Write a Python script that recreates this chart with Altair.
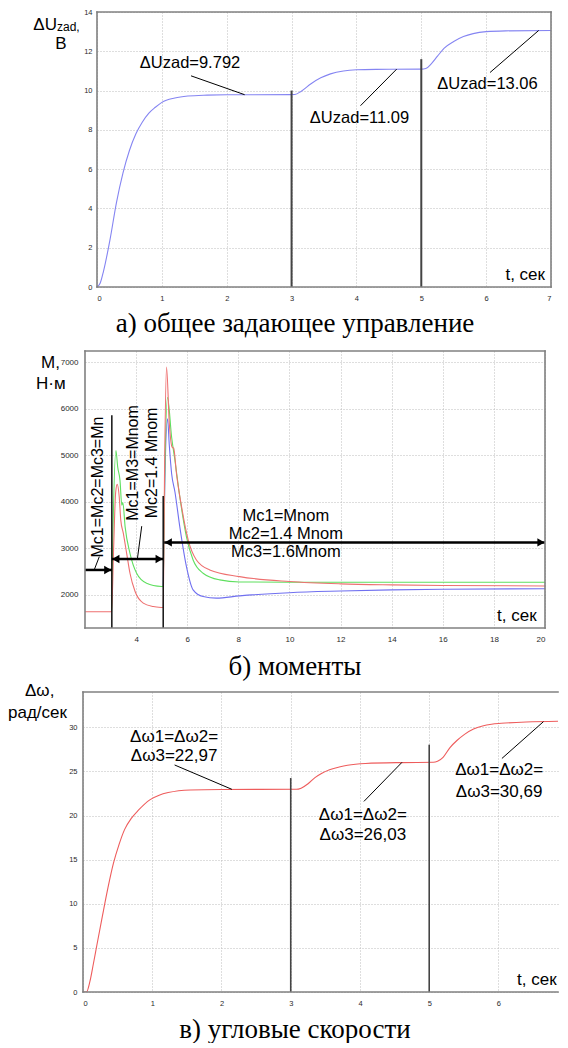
import altair as alt
import pandas as pd

SANS = "Liberation Sans"
SERIF = "Liberation Serif"
GRID = "#bdbdbd"
FRAME = "#808080"
TICK = "#2a2a2a"

# ---------------- panel a: general reference control ----------------
a_t = [0, 0.05, 0.1, 0.2, 0.3, 0.4, 0.5, 0.6, 0.7, 0.8, 0.9, 1.0, 1.2, 1.4, 1.7, 2.0,
       3.0, 3.05, 3.15, 3.3, 3.45, 3.6, 3.8, 4.0, 4.3, 5.0, 5.07, 5.15, 5.25, 5.35,
       5.5, 5.65, 5.8, 6.0, 6.3, 7.0]
a_u = [0, 0.2, 0.8, 2.4, 4.3, 5.8, 6.95, 7.8, 8.4, 8.85, 9.15, 9.4, 9.62, 9.72, 9.77, 9.79,
       9.792, 9.8, 9.97, 10.35, 10.65, 10.85, 11.0, 11.06, 11.08, 11.09, 11.12, 11.35, 11.75, 12.15,
       12.5, 12.75, 12.9, 13.0, 13.04, 13.06]
a_xdom = [0, 7]
a_ydom = [0, 14]
a_xticks = [0, 1, 2, 3, 4, 5, 6, 7]
a_yticks = [0, 2, 4, 6, 8, 10, 12, 14]
a_note_t = [1.434, 4.047, 6.02]
a_note_v = [11.38, 8.62, 10.33]
a_note_txt = ["ΔUzad=9.792", "ΔUzad=11.09", "ΔUzad=13.06"]
a_lead_t = [1.45, 4.063, 6.06]
a_lead_v = [10.75, 9.23, 10.92]
a_lead_t2 = [2.276, 4.62, 6.81]
a_lead_v2 = [9.79, 11.09, 13.06]
a_vline_t = [3, 5]
a_vline_top = [10.0, 11.6]
a_tlab = [6.907, 0.61]

# ---------------- panel b: torques ----------------
# (where the three torques coincide only the top-most trace is visible)
b_red_t = [2.0, 3.04, 3.12, 3.2, 3.26, 3.34, 3.4, 3.5, 3.63, 3.76, 3.96, 4.28, 4.67, 5.0, 5.06,
           5.12, 5.19, 5.3, 5.41, 5.47, 5.58, 5.78, 6.04, 6.36, 6.88, 8.05, 10, 12, 14, 16, 20]
b_red_v = [1630, 1630, 3000, 4200, 4370, 4100, 3600, 3315, 2886, 2458, 2065, 1816, 1743, 1722, 1720,
           5000, 6897, 5670, 5170, 5150, 4600, 3885, 3170, 2743, 2529, 2386, 2280, 2230, 2208, 2195, 2185]
b_green_t = [3.04, 3.1, 3.21, 3.28, 3.37, 3.44, 3.48, 3.57, 3.76, 4.02, 4.41, 5.0, 5.06,
             5.12, 5.23, 5.39, 5.52, 5.71, 5.97, 6.23, 6.62, 7.27, 8.05, 10, 14, 20]
b_green_v = [1630, 3500, 5099, 4741, 4456, 3921, 3980, 3456, 2886, 2458, 2244, 2172, 2170,
             4500, 6240, 5384, 4885, 4099, 3242, 2743, 2458, 2315, 2270, 2265, 2265, 2265]
b_blue_t = [5.06, 5.12, 5.23, 5.3, 5.39, 5.52, 5.71, 5.97, 6.23, 6.62, 7.14, 8.05, 10, 12, 14, 16, 20]
b_blue_v = [2170, 4300, 5780, 5200, 4600, 4206, 3456, 2600, 2101, 1957, 1923, 1972, 2040, 2075,
            2100, 2115, 2125]
b_xdom = [2, 20]
b_ydom = [1280, 7240]
b_xticks = [4, 6, 8, 10, 12, 14, 16, 18, 20]
b_yticks = [2000, 3000, 4000, 5000, 6000, 7000]
b_note_t = [9.86, 9.86, 9.86]
b_note_v = [3692, 3293, 2908]
b_note_txt = ["Mc1=Mnom", "Mc2=1.4 Mnom", "Mc3=1.6Mnom"]
b_rot_t = [2.52, 3.89, 4.61]
b_rot_v = [4313, 4831, 4831]
b_rot_txt = ["Mc1=Mc2=Mc3=Mn", "Mc1=M3=Mnom", "Mc2=1.4 Mnom"]
b_arrow_t = [2.0, 3.05, 5.1]
b_arrow_t2 = [3.05, 5.06, 20.0]
b_arrow_v = [2529, 2765, 3122]
b_head_r_t = [3.05, 5.06, 20.0]
b_head_r_v = [2529, 2765, 3122]
b_head_l_t = [3.05, 5.1]
b_head_l_v = [2765, 3122]
b_lead_t = [2.56, 4.22]
b_lead_v = [2815, 3471]
b_lead_t2 = [2.36, 4.05]
b_lead_v2 = [2529, 2765]
b_vline_t = [3.05, 5.06]
b_vline_top = [5860, 4118]
b_tlab = [19.67, 1529]

# ---------------- panel c: angular speeds ----------------
c_t = [0, 0.05, 0.1, 0.15, 0.2, 0.28, 0.36, 0.44, 0.52, 0.6, 0.7, 0.8, 0.97, 1.1, 1.23, 1.55, 2.0,
       3.08, 3.15, 3.25, 3.35, 3.45, 3.56, 3.7, 3.82, 4.08, 4.6, 5.06, 5.12, 5.2, 5.3, 5.4, 5.51,
       5.64, 5.77, 5.9, 6.04, 6.4, 7.0]
c_w = [0, 0, 1.2, 3.2, 5.3, 8.6, 11.8, 14.6, 16.7, 18.4, 19.7, 20.6, 21.8, 22.3, 22.6, 22.9, 22.95,
       22.97, 23.1, 23.6, 24.3, 24.8, 25.2, 25.5, 25.7, 25.9, 26.0, 26.03, 26.15, 26.6, 27.7, 28.5, 29.2,
       29.8, 30.15, 30.35, 30.45, 30.6, 30.69]
c_xdom = [0, 6.86]          # the right part of the panel is cut off by the page edge
c_ydom = [0, 34]
c_xticks = [0, 1, 2, 3, 4, 5, 6]
c_yticks = [0, 5, 10, 15, 20, 25, 30]
c_note_t = [1.316, 1.316, 4.042, 4.042, 6.01, 6.01]
c_note_v = [28.95, 26.78, 20.08, 17.83, 25.13, 22.67]
c_note_txt = ["Δω1=Δω2=", "Δω3=22,97", "Δω1=Δω2=", "Δω3=26,03", "Δω1=Δω2=", "Δω3=30,69"]
c_lead_t = [1.323, 4.057, 6.05]
c_lead_v = [25.73, 21.6, 26.47]
c_lead_t2 = [2.15, 4.607, 6.65]
c_lead_v2 = [22.97, 26.03, 30.64]
c_vline_t = [3, 5]
c_vline_top = [24.25, 28.03]
c_tlab = [6.84, 1.37]

captions = ["а) общее задающее управление", "б) моменты", "в) угловые скорости"]


def axes(xticks, yticks, xpad, ypad, size, yfmt):
    common = dict(grid=True, gridColor=GRID, gridDash=[1, 2], gridWidth=1, domain=False,
                  ticks=False, tickSize=0, labelFont=SANS, labelFontSize=size,
                  labelColor=TICK, title=None)
    ax = alt.Axis(values=xticks, labelPadding=xpad, format="d", **common)
    ay = alt.Axis(values=yticks, labelPadding=ypad, format=yfmt, **common)
    return ax, ay


def panel(xs, ys, ax, ay, xdom, ydom, lines, interp, notes, note_size, leaders, vlines, vcolor,
          vwidth, tlab, extra, statics, width, height, open_right=False):
    X = lambda f: alt.X(f, type="quantitative", scale=xs, axis=ax)
    Y = lambda f: alt.Y(f, type="quantitative", scale=ys, axis=ay)
    layers = []
    for (tt, vv, col) in lines:
        layers.append(alt.Chart(pd.DataFrame({"t": tt, "v": vv})).mark_line(
            color=col, strokeWidth=1.1, interpolate=interp, clip=True).encode(x=X("t"), y=Y("v")))
    vdf = pd.DataFrame({"t": vlines[0], "v": [ydom[0]] * len(vlines[0]), "v2": vlines[1]})
    layers.append(alt.Chart(vdf).mark_rule(color=vcolor, strokeWidth=vwidth).encode(
        x=X("t"), y=Y("v"), y2="v2"))
    ldf = pd.DataFrame({"t": leaders[0], "v": leaders[1], "t2": leaders[2], "v2": leaders[3]})
    layers.append(alt.Chart(ldf).mark_rule(color="black", strokeWidth=1).encode(
        x=X("t"), y=Y("v"), x2="t2", y2="v2"))
    ndf = pd.DataFrame({"t": notes[0], "v": notes[1], "label": notes[2]})
    layers.append(alt.Chart(ndf).mark_text(font=SANS, fontSize=note_size, align="center",
                                           baseline="middle", color="black").encode(
        x=X("t"), y=Y("v"), text="label:N"))
    tdf = pd.DataFrame({"t": [tlab[0]], "v": [tlab[1]], "label": ["t, сек"]})
    layers.append(alt.Chart(tdf).mark_text(font=SANS, fontSize=17, align="right",
                                           baseline="middle", color="black").encode(
        x=X("t"), y=Y("v"), text="label:N"))
    for fn in extra:
        layers.append(fn(X, Y))
    # frame edges: bottom, top, left (and right unless the panel is cut by the page edge)
    e_t = [xdom[0], xdom[0], xdom[0]]
    e_t2 = [xdom[1], xdom[1], xdom[0]]
    e_v = [ydom[0], ydom[1], ydom[0]]
    e_v2 = [ydom[0], ydom[1], ydom[1]]
    if not open_right:
        e_t.append(xdom[1]); e_t2.append(xdom[1]); e_v.append(ydom[0]); e_v2.append(ydom[1])
    fdf = pd.DataFrame({"t": e_t, "t2": e_t2, "v": e_v, "v2": e_v2})
    layers.append(alt.Chart(fdf).mark_rule(color=FRAME, strokeWidth=1.6, strokeCap="square").encode(
        x=X("t"), x2="t2", y=Y("v"), y2="v2"))
    for (label, px, py, size, font, align) in statics:
        layers.append(alt.Chart(pd.DataFrame({"label": [label]})).mark_text(
            font=font, fontSize=size, align=align, baseline="alphabetic", color="black").encode(
            x=alt.value(px), y=alt.value(py), text="label:N"))
    return alt.layer(*layers).properties(width=width, height=height)


# ---- panel a
ax_a, ay_a = axes(a_xticks, a_yticks, 7, -9, 7.5, "d")
xs_a = alt.Scale(domain=a_xdom, range=[14, 468], nice=False, zero=False)
ys_a = alt.Scale(domain=a_ydom, nice=False, zero=False)
pa = panel(xs_a, ys_a, ax_a, ay_a, a_xdom, a_ydom,
           [(a_t, a_u, "#8585f2")], "monotone",
           (a_note_t, a_note_v, a_note_txt), 16.5,
           (a_lead_t, a_lead_v, a_lead_t2, a_lead_v2),
           (a_vline_t, a_vline_top), "#444444", 2,
           a_tlab, [],
           [("ΔU", -26, 18, 17, SANS, "right"), ("zad,", -26, 19, 12, SANS, "left"),
            ("В", -22, 36.5, 17, SANS, "center"),
            (captions[0], 212, 320, 27, SERIF, "center")],
           468, 275)

# ---- panel b
ax_b, ay_b = axes(b_xticks, b_yticks, 7, 5, 8, "d")
xs_b = alt.Scale(domain=b_xdom, range=[2, 462], nice=False, zero=False)
ys_b = alt.Scale(domain=b_ydom, nice=False, zero=False)


def b_arrows(X, Y):
    adf = pd.DataFrame({"t": b_arrow_t, "t2": b_arrow_t2, "v": b_arrow_v, "v2": b_arrow_v})
    lines = alt.Chart(adf).mark_rule(color="black", strokeWidth=2.5).encode(
        x=X("t"), x2="t2", y=Y("v"), y2="v2")
    hr = alt.Chart(pd.DataFrame({"t": b_head_r_t, "v": b_head_r_v})).mark_point(
        shape="triangle-right", filled=True, size=70, color="black", opacity=1, xOffset=-4).encode(
        x=X("t"), y=Y("v"))
    hl = alt.Chart(pd.DataFrame({"t": b_head_l_t, "v": b_head_l_v})).mark_point(
        shape="triangle-left", filled=True, size=70, color="black", opacity=1, xOffset=4).encode(
        x=X("t"), y=Y("v"))
    return alt.layer(lines, hr, hl)


def b_rotated(X, Y):
    rdf = pd.DataFrame({"t": b_rot_t, "v": b_rot_v, "label": b_rot_txt})
    return alt.Chart(rdf).mark_text(font=SANS, fontSize=16, angle=270, align="center",
                                    baseline="middle", color="black").encode(
        x=X("t"), y=Y("v"), text="label:N")


pb = panel(xs_b, ys_b, ax_b, ay_b, b_xdom, b_ydom,
           [(b_blue_t, b_blue_v, "#7070f0"), (b_green_t, b_green_v, "#5fdf5f"),
            (b_red_t, b_red_v, "#ee7070")], "monotone",
           (b_note_t, b_note_v, b_note_txt), 16.5,
           (b_lead_t, b_lead_v, b_lead_t2, b_lead_v2),
           (b_vline_t, b_vline_top), "#111111", 1.5,
           b_tlab, [b_arrows, b_rotated],
           [("M,", -42, 16.7, 17, SANS, "left"), ("Н·м", -47, 38, 17, SANS, "left"),
            (captions[1], 212, 324, 27, SERIF, "center")],
           462, 277)

# ---- panel c
ax_c, ay_c = axes(c_xticks, c_yticks, 7, 6, 7.5, "d")
xs_c = alt.Scale(domain=c_xdom, nice=False, zero=False)
ys_c = alt.Scale(domain=c_ydom, nice=False, zero=False)
pc = panel(xs_c, ys_c, ax_c, ay_c, c_xdom, c_ydom,
           [(c_t, c_w, "#ee5c5c")], "monotone",
           (c_note_t, c_note_v, c_note_txt), 17,
           (c_lead_t, c_lead_v, c_lead_t2, c_lead_v2),
           (c_vline_t, c_vline_top), "#444444", 1.6,
           c_tlab, [],
           [("Δω,", -58, 4, 17, SANS, "left"), ("рад/сек", -75, 26, 17, SANS, "left"),
            (captions[2], 212, 346, 27, SERIF, "center")],
           475, 300, open_right=True)

chart = alt.vconcat(pa, pb, pc, spacing=64, bounds="flush", padding=0,
                    background="white").configure_view(strokeWidth=0)

chart.save("out.html", embed_options={"renderer": "svg", "actions": False})
